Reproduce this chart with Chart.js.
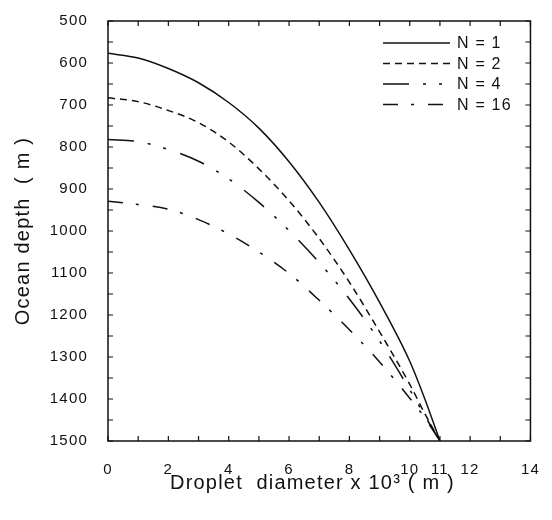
<!DOCTYPE html>
<html>
<head>
<meta charset="utf-8">
<script src="https://cdn.jsdelivr.net/npm/chart.js@4"></script>
<style>
  html, body { margin: 0; padding: 0; background: #fff; }
</style>
</head>
<body>
<canvas id="chart" width="552" height="520"></canvas>
<script>
// droplet diameter (x 10^3 m) and depth (m)
const diameters = [0, 1, 2, 3, 4, 5, 6, 7, 8, 9, 10, 10.5, 11];
const depthN1  = [577, 588, 613, 647, 694, 755, 835, 932, 1045, 1170, 1310, 1400, 1500];
const depthN2  = [683, 692, 713, 742, 788, 852, 928, 1018, 1122, 1240, 1365, 1435, 1500];
const depthN4  = [782, 787, 806, 834, 876, 932, 999, 1075, 1162, 1262, 1378, 1440, 1500];
const depthN16 = [929, 937, 948, 973, 1007, 1050, 1101, 1165, 1235, 1312, 1398, 1445, 1500];

const seriesNames = ["N = 1", "N = 2", "N = 4", "N = 16"];
const xTickLabels = [0, 2, 4, 6, 8, 10, 11, 12, 14];
const yTickLabels = [500, 600, 700, 800, 900, 1000, 1100, 1200, 1300, 1400, 1500];

const INK = "#111";
const FONT = "'Liberation Sans', Arial, sans-serif";

function toPoints(ys) {
  return diameters.map((d, i) => ({ x: d, y: ys[i] }));
}

function series(label, ys, dash) {
  return {
    label,
    data: toPoints(ys),
    borderColor: INK,
    borderWidth: 1.5,
    borderDash: dash,
    pointRadius: 0,
    fill: false,
    cubicInterpolationMode: "monotone"
  };
}

// canvas letter spacing, the scanned labels are widely tracked
const tracking = {
  id: "tracking",
  beforeLayout(c) { c.ctx.letterSpacing = "1.2px"; },
  beforeDraw(c) { c.ctx.letterSpacing = "1.2px"; }
};

// box round the plot with inward ticks on all four sides
const frame = {
  id: "frame",
  afterDatasetsDraw(chart) {
    const { ctx, chartArea: a, scales: { x, y } } = chart;
    ctx.save();
    ctx.strokeStyle = INK;
    ctx.lineWidth = 1.5;
    ctx.strokeRect(a.left, a.top, a.right - a.left, a.bottom - a.top);
    ctx.lineWidth = 1.2;
    ctx.beginPath();
    x.ticks.forEach(t => {
      const px = x.getPixelForValue(t.value);
      ctx.moveTo(px, a.bottom); ctx.lineTo(px, a.bottom - 5);
      ctx.moveTo(px, a.top); ctx.lineTo(px, a.top + 5);
    });
    y.ticks.forEach(t => {
      const py = y.getPixelForValue(t.value);
      ctx.moveTo(a.left, py); ctx.lineTo(a.left + 5, py);
      ctx.moveTo(a.right, py); ctx.lineTo(a.right - 5, py);
    });
    ctx.stroke();
    ctx.restore();
  }
};

// legend in the top right corner of the plot
const cornerLegend = {
  id: "cornerLegend",
  afterDraw(chart) {
    const ctx = chart.ctx;
    ctx.save();
    ctx.letterSpacing = "1.2px";
    ctx.font = "16px " + FONT;
    ctx.fillStyle = INK;
    ctx.textBaseline = "middle";
    chart.data.datasets.forEach((ds, i) => {
      const yy = 43 + i * 20.5;
      ctx.strokeStyle = INK;
      ctx.lineWidth = 1.5;
      ctx.setLineDash(ds.borderDash || []);
      ctx.beginPath();
      ctx.moveTo(383, yy);
      ctx.lineTo(450, yy);
      ctx.stroke();
      ctx.fillText(ds.label, 457, yy + 1);
    });
    ctx.restore();
  }
};

new Chart(document.getElementById("chart"), {
  type: "line",
  data: {
    datasets: [
      series(seriesNames[0], depthN1, []),
      series(seriesNames[1], depthN2, [7, 5]),
      series(seriesNames[2], depthN4, [26, 14, 3, 13, 3, 15]),
      series(seriesNames[3], depthN16, [15, 13, 3, 14])
    ]
  },
  options: {
    responsive: false,
    animation: false,
    layout: { padding: { left: 11, top: 15, right: 21, bottom: 25 } },
    plugins: {
      legend: { display: false },
      tooltip: { enabled: false }
    },
    scales: {
      x: {
        type: "linear",
        min: 0,
        max: 14,
        grid: { display: false },
        border: { display: false },
        ticks: {
          stepSize: 1,
          autoSkip: false,
          maxRotation: 0,
          padding: 12,
          color: INK,
          font: { family: FONT, size: 15 },
          callback: v => (xTickLabels.includes(v) ? String(v) : "")
        },
        title: {
          display: true,
          // trailing spaces nudge the title a little left, as in the scan
          text: "Droplet  diameter x 10³ ( m )  ",
          color: INK,
          padding: 0,
          font: { family: FONT, size: 20 }
        },
        afterFit(s) { s.height = 54; }
      },
      y: {
        type: "linear",
        reverse: true,
        min: 500,
        max: 1500,
        grid: { display: false },
        border: { display: false },
        ticks: {
          stepSize: 50,
          autoSkip: false,
          padding: 12,
          color: INK,
          font: { family: FONT, size: 15 },
          callback: v => (yTickLabels.includes(v) ? String(v) : "")
        },
        title: {
          display: true,
          text: "Ocean depth  ( m )",
          color: INK,
          padding: 0,
          font: { family: FONT, size: 20 }
        },
        afterFit(s) { s.width = 97; }
      }
    }
  },
  plugins: [tracking, frame, cornerLegend]
});
</script>
</body>
</html>
